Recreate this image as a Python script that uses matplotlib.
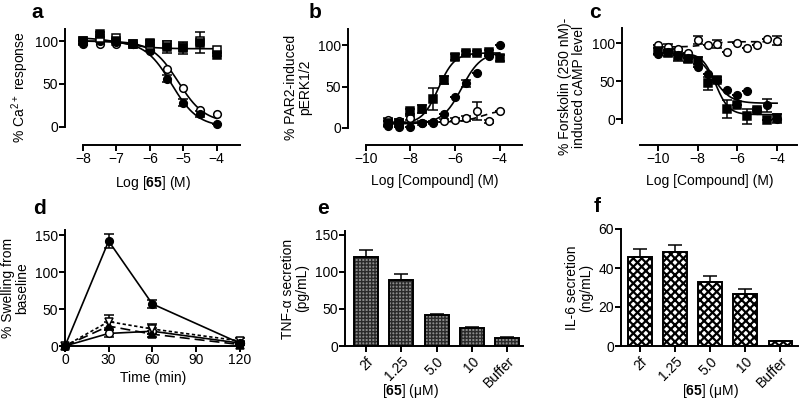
import numpy as np
import matplotlib
matplotlib.use('Agg')
import matplotlib.pyplot as plt

plt.rcParams['font.family'] = ['Liberation Sans', 'DejaVu Sans']
plt.rcParams['font.size'] = 10
plt.rcParams['mathtext.fontset'] = 'custom'
plt.rcParams['mathtext.rm'] = 'Liberation Sans'
plt.rcParams['mathtext.bf'] = 'Liberation Sans:bold'
plt.rcParams['axes.linewidth'] = 1.4
plt.rcParams['xtick.major.width'] = 1.4
plt.rcParams['ytick.major.width'] = 1.4
plt.rcParams['xtick.major.size'] = 4
plt.rcParams['ytick.major.size'] = 4
plt.rcParams['hatch.linewidth'] = 1.0

# ---- panel a: Ca2+ response vs log[65]
a_x = [-8, -7.5, -7, -6.5, -6, -5.5, -5, -4.5, -4]
a_fc = [97, 100, 99, 96, 88, 56, 28, 15, 4]
a_fc_err = [0, 0, 0, 0, 0, 4, 4, 3, 0]
a_oc = [100, 96, 97, 97, 90, 67, 45, 20, 15]
a_fs = [100, 108, 100, 96, 98, 93, 92, 98, 84]
a_fs_err = [0, 3, 2, 2, 3, 7, 7, 12, 2]
a_os = [100, 104, 104, 96, 95, 95, 93, 100, 89]
# fit params: bottom, top, logEC50, hill slope
a_fit_fc = [0, 100, -5.35, -1.1]
a_fit_oc = [5, 100, -5.15, -1.1]
a_fit_sq = [91, 104, -6.8, -1.0]

# ---- panel b: PAR2-induced pERK1/2
b_x = [-9, -8.5, -8, -7.5, -7, -6.5, -6, -5.5, -5, -4.5, -4]
b_fs = [6, 6, 20, 23, 35, 58, 86, 91, 91, 92, 85]
b_fs_err = [3, 3, 3, 5, 13, 5, 4, 2, 2, 2, 4]
b_fc = [2, 1, 1, 6, 6.5, 17, 38, 54, 67, 87, 100]
b_fc_err = [0, 0, 0, 0, 0, 0, 0, 4, 0, 0, 0]
b_oc = [10, 9, 12, 6, 7, 9, 10, 12, 21, 8, 20]
b_oc_err = [2, 2, 2, 2, 2, 2, 2, 3, 11, 2, 0]
b_fit_fs = [5, 91, -6.75, 1.2]
b_fit_fc = [5, 92, -5.7, 1.0]
b_fit_oc = [7, 22, -4.8, 1.0]

# ---- panel c: forskolin-induced cAMP
c_x = [-10, -9.5, -9, -8.5, -8, -7.5, -7, -6.5, -6, -5.5, -5, -4.5, -4]
c_oc = [97, 95, 93, 87, 104, 97, 99, 88, 100, 94, 97, 105, 103]
c_oc_err = [0, 4, 0, 0, 5, 0, 5, 0, 0, 0, 0, 0, 6]
c_fc = [86, 88, 85, 80, 69, 60, 52, 39, 32, 37, 12, 18, 0]
c_fc_err = [0, 0, 0, 0, 0, 0, 0, 0, 0, 0, 0, 9, 0]
c_fs = [90, 87, 83, 79, 77, 47, 52, 13, 18, 4, 12, -1, 1]
c_fs_err = [4, 4, 7, 4, 5, 8, 3, 12, 0, 10, 3, 0, 6]
c_fit_fc = [21, 87, -7.2, -1.0]
c_fit_fs = [6, 87, -7.1, -1.3]
c_fit_oc = [95, 102, -7.5, 1.0]

# ---- panel d: paw swelling over time
d_t = [0, 30, 60, 120]
d_fc = [0, 142, 57, 4]
d_fc_err = [0, 10, 5, 3]
d_otri = [0, 33, 23, 7]
d_otri_err = [0, 9, 7, 4]
d_ftri = [0, 27, 16, 2]
d_ftri_err = [0, 6, 4, 1]
d_oc = [0, 17, 20, 4]
d_oc_err = [0, 5, 4, 1]

# ---- panels e, f: cytokine secretion
conc_labels = ['2f', '1.25', '5.0', '10', 'Buffer']
tnf = [120, 89, 42, 24, 11]
tnf_err = [10, 8, 1, 1, 0.5]
il6 = [45.5, 48, 33, 26.5, 2.5]
il6_err = [4, 4, 3, 2.5, 0.3]


def hill(x, p):
    bottom, top, logec, h = p
    return bottom + (top - bottom) / (1 + 10 ** ((logec - x) * h))


def px_axes(fig, l, r, t, b):
    W, H = 799, 400
    return fig.add_axes([l / W, 1 - b / H, (r - l) / W, (b - t) / H])


def prism_style(ax):
    ax.spines['top'].set_visible(False)
    ax.spines['right'].set_visible(False)
    ax.tick_params(direction='out', length=4, width=1.4, labelsize=10, pad=1)


def err(ax, x, y, e, **kw):
    ax.errorbar(x, y, yerr=e, fmt='none', ecolor='black', elinewidth=1.1,
                capsize=3.5, capthick=1.1, clip_on=False, zorder=3)


def letter(s, x, y):
    fig.text(x / 799, 1 - y / 400, s, fontsize=15, fontweight='bold', ha='center', va='center')


fig = plt.figure(figsize=(7.99, 4.0), dpi=100)

mk = dict(markersize=5.5, markeredgewidth=1.1, markeredgecolor='black', linestyle='none',
          clip_on=False, zorder=4)

# panel a
ax = px_axes(fig, 65, 240, 29, 145)
prism_style(ax)
ax.set_xlim(-8.54, -3.3)
ax.set_ylim(-21, 114)
ax.spines['left'].set_bounds(0, 114)
ax.spines['bottom'].set_bounds(-8, -3.3)
ax.set_yticks([0, 50, 100])
ax.set_xticks([-8, -7, -6, -5, -4])
xx = np.linspace(-8, -4, 200)
for p in (a_fit_fc, a_fit_oc, a_fit_sq):
    ax.plot(xx, hill(xx, p), color='black', lw=1.2, zorder=2)
err(ax, a_x, a_fc, a_fc_err)
err(ax, a_x, a_fs, a_fs_err)
ax.plot(a_x, a_oc, marker='o', markerfacecolor='white', **mk)
ax.plot(a_x, a_fc, marker='o', markerfacecolor='black', **mk)
ax.plot(a_x, a_os, marker='s', markerfacecolor='white', **mk)
ax.plot(a_x, a_fs, marker='s', markerfacecolor='black', **mk)
ax.set_ylabel('% Ca$^{2+}$ response', labelpad=3)
ax.set_xlabel(r'Log [$\mathbf{65}$] (M)', labelpad=6)
letter('a', 37, 12)

# panel b
ax = px_axes(fig, 348, 522, 29, 145)
prism_style(ax)
ax.set_xlim(-10.8, -3.0)
ax.set_ylim(-20.7, 120)
ax.spines['left'].set_bounds(0, 120)
ax.spines['bottom'].set_bounds(-10, -3.0)
ax.set_yticks([0, 50, 100])
ax.set_xticks([-10, -8, -6, -4])
xx = np.linspace(-9, -4, 200)
ax.plot(xx, hill(xx, b_fit_fs), color='black', lw=1.2, zorder=2)
ax.plot(xx, hill(xx, b_fit_fc), color='black', lw=1.2, zorder=2)
ax.plot(xx, hill(xx, b_fit_oc), color='black', lw=1.2, ls=(0, (4, 3)), zorder=2)
err(ax, b_x, b_fs, b_fs_err)
err(ax, b_x, b_oc, b_oc_err)
err(ax, b_x, b_fc, b_fc_err)
ax.plot(b_x, b_oc, marker='o', markerfacecolor='white', **mk)
ax.plot(b_x, b_fc, marker='o', markerfacecolor='black', **mk)
ax.plot(b_x, b_fs, marker='s', markerfacecolor='black', **mk)
ax.set_ylabel('% PAR2-induced\npERK1/2', labelpad=4, linespacing=1.0)
ax.set_xlabel('Log [Compound] (M)', labelpad=6)
letter('b', 315, 12)

# panel c
ax = px_axes(fig, 622, 797, 28, 145)
prism_style(ax)
ax.set_xlim(-11.8, -3.0)
ax.set_ylim(-34, 120)
ax.spines['left'].set_bounds(-5, 120)
ax.spines['bottom'].set_bounds(-10.9, -3.0)
ax.set_yticks([0, 50, 100])
ax.set_xticks([-10, -8, -6, -4])
xx = np.linspace(-10, -4, 200)
ax.plot(xx, hill(xx, c_fit_fc), color='black', lw=1.2, zorder=2)
ax.plot(xx, hill(xx, c_fit_fs), color='black', lw=1.2, zorder=2)
ax.plot(xx, hill(xx, c_fit_oc), color='black', lw=1.2, ls=(0, (4, 3)), zorder=2)
err(ax, c_x, c_oc, c_oc_err)
err(ax, c_x, c_fc, c_fc_err)
err(ax, c_x, c_fs, c_fs_err)
ax.plot(c_x, c_oc, marker='o', markerfacecolor='white', **mk)
ax.plot(c_x, c_fc, marker='o', markerfacecolor='black', **mk)
ax.plot(c_x, c_fs, marker='s', markerfacecolor='black', **mk)
ax.set_ylabel('% Forskolin (250 nM)-\ninduced cAMP level', labelpad=4, linespacing=1.0)
ax.set_xlabel('Log [Compound] (M)', labelpad=6)
letter('c', 595, 12)

# panel d
ax = px_axes(fig, 65, 241, 230, 346)
prism_style(ax)
ax.set_xlim(0, 121)
ax.set_ylim(0, 157)
ax.set_yticks([0, 50, 100, 150])
ax.set_xticks([0, 30, 60, 90, 120])
lk = dict(color='black', lw=1.2, markersize=5.5, markeredgewidth=1.1,
          markeredgecolor='black', clip_on=False)
for y, e in ((d_fc, d_fc_err), (d_otri, d_otri_err), (d_ftri, d_ftri_err), (d_oc, d_oc_err)):
    err(ax, d_t, y, e)
ax.plot(d_t, d_oc, marker='o', markerfacecolor='white', ls='-', zorder=4, **lk)
ax.plot(d_t, d_ftri, marker='^', markerfacecolor='black', ls=(0, (6, 3)), zorder=4, **lk)
ax.plot(d_t, d_otri, marker='v', markerfacecolor='white', ls=(0, (2, 1.5)), zorder=4, **lk)
ax.plot(d_t, d_fc, marker='o', markerfacecolor='black', ls='-', zorder=5, **lk)
ax.set_ylabel('% Swelling from\nbaseline', labelpad=4, linespacing=1.0)
ax.set_xlabel('Time (min)', labelpad=3)
letter('d', 40, 208)


def bars(ax, vals, errs, face, hatch, hcolor, hlw):
    pos = np.arange(len(vals))
    bc = ax.bar(pos, vals, width=0.68, color=face, edgecolor=hcolor, hatch=hatch,
                linewidth=0, zorder=2)
    for p in bc.patches:
        if hasattr(p, 'set_hatch_linewidth'):
            p.set_hatch_linewidth(hlw)
    ax.bar(pos, vals, width=0.68, fill=False, edgecolor='black', linewidth=1.4, zorder=3)
    ax.errorbar(pos, vals, yerr=[np.zeros(len(errs)), errs], fmt='none', ecolor='black',
                elinewidth=1.1, capsize=5, capthick=1.1, zorder=1)
    ax.set_xticks(pos)
    ax.set_xticklabels(conc_labels, rotation=45, ha='right', rotation_mode='anchor')
    ax.tick_params(axis='x', pad=2)


# panel e
ax = px_axes(fig, 345, 523, 231, 346)
prism_style(ax)
bars(ax, tnf, tnf_err, '#8c8c8c', '+++++', '#2a2a2a', 1.0)
ax.set_xlim(-0.6, 4.45)
ax.set_ylim(0, 155)
ax.spines['left'].set_bounds(0, 155)
ax.set_yticks([0, 50, 100, 150])
ax.set_ylabel('TNF-α secretion\n(pg/mL)', labelpad=4, linespacing=1.0)
fig.text(410 / 799, 1 - 391 / 400, r'[$\mathbf{65}$] (μM)', ha='center', va='center')
letter('e', 323, 208)

# panel f
ax = px_axes(fig, 621, 798, 229, 346)
prism_style(ax)
bars(ax, il6, il6_err, 'white', 'xxxx', 'black', 1.6)
ax.set_xlim(-0.54, 4.5)
ax.set_ylim(0, 60)
ax.set_yticks([0, 20, 40, 60])
ax.set_ylabel('IL-6 secretion\n(ng/mL)', labelpad=4, linespacing=1.0)
fig.text(710 / 799, 1 - 391 / 400, r'[$\mathbf{65}$] (μM)', ha='center', va='center')
letter('f', 597, 206)

fig.savefig('out.png', dpi=100)
